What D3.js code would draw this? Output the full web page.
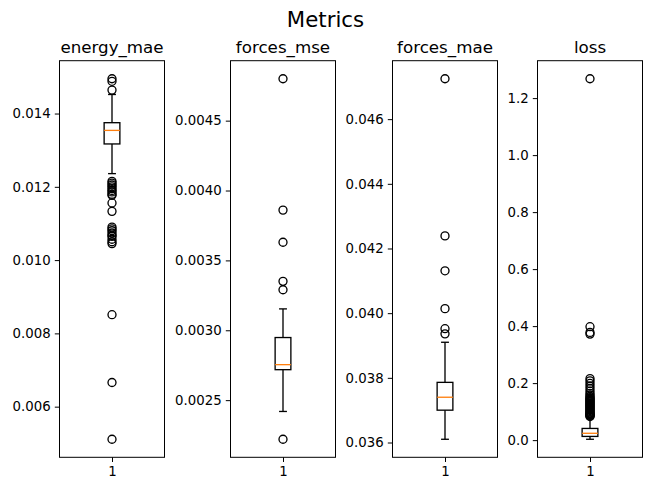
<!DOCTYPE html>
<html><head><meta charset="utf-8">
<script src="https://cdn.jsdelivr.net/npm/d3@7"></script>
<style>body{margin:0;background:#fff} text{font-family:"DejaVu Sans",sans-serif;fill:#000}</style>
</head><body><svg id="c" width="651" height="491"></svg>
<script>
const chartTitle = "Metrics";
const metrics = ["energy_mae", "forces_mse", "forces_mae", "loss"];
const whiskerLow  = [0.01236, 0.002419, 0.0361,  0.003];
const q1          = [0.01317, 0.002718, 0.0370,  0.013];
const medians     = [0.01354, 0.002754, 0.0374,  0.024];
const q3          = [0.01375, 0.002948, 0.03786, 0.041];
const whiskerHigh = [0.01452, 0.003153, 0.0391,  0.080];
const fliersEnergyMae = [0.01495, 0.01488, 0.01464,
  0.01215, 0.01210, 0.01205, 0.01200, 0.01195, 0.01190, 0.01186, 0.01180, 0.01177, 0.01156, 0.01133,
  0.01090, 0.01085, 0.01080, 0.01074, 0.01068, 0.01065, 0.01057, 0.01050, 0.01045,
  0.00851, 0.00666, 0.00511];
const fliersForcesMse = [0.00480, 0.00386, 0.00363, 0.00335, 0.00329, 0.00222];
const fliersForcesMae = [0.04725, 0.04239, 0.04131, 0.04014, 0.03952, 0.03936];
const fliersLoss = [1.268, 0.398, 0.378, 0.372,
  0.216, 0.208, 0.199, 0.190, 0.181, 0.172, 0.164, 0.158, 0.153, 0.149, 0.146, 0.143, 0.140,
  0.137, 0.134, 0.131, 0.128, 0.125, 0.122, 0.119, 0.116, 0.113, 0.110, 0.107, 0.104, 0.101,
  0.098, 0.095, 0.093, 0.091, 0.089, 0.087, 0.085, 0.083];
const fliers = [fliersEnergyMae, fliersForcesMse, fliersForcesMae, fliersLoss];
const yTicks = [
  [0.006, 0.008, 0.010, 0.012, 0.014],
  [0.0025, 0.0030, 0.0035, 0.0040, 0.0045],
  [0.036, 0.038, 0.040, 0.042, 0.044, 0.046],
  [0.0, 0.2, 0.4, 0.6, 0.8, 1.0, 1.2]
];
const yTickFormats = [".3f", ".4f", ".3f", ".1f"];
const xTicks = [1];

// layout
const panelLeft = [59.5, 230.5, 392.5, 537.5];
const panelW = 105, plotTop = 60.7, plotBottom = 457.3;
const svg = d3.select("#c");

svg.append("text").attr("x", 325.5).attr("y", 27).attr("text-anchor", "middle")
  .style("font-size", "21.3px").text(chartTitle);

metrics.forEach((m, i) => {
  const vals = [whiskerLow[i], whiskerHigh[i], ...fliers[i]];
  const lo = d3.min(vals), hi = d3.max(vals), pad = (hi - lo) * 0.05;
  const y = d3.scaleLinear().domain([lo - pad, hi + pad]).range([plotBottom, plotTop]);
  const x = d3.scaleLinear().domain([0.5, 1.5]).range([panelLeft[i], panelLeft[i] + panelW]);
  const g = svg.append("g");

  const ya = g.append("g").attr("transform", `translate(${panelLeft[i]},0)`)
    .call(d3.axisLeft(y).tickValues(yTicks[i]).tickFormat(d3.format(yTickFormats[i]))
      .tickSize(4.7).tickPadding(4.2));
  ya.select(".domain").remove();
  ya.selectAll("text").style("font-size", "13.3px");
  ya.selectAll("line").attr("stroke", "#000").attr("stroke-width", 1);

  const xa = g.append("g").attr("transform", `translate(0,${plotBottom})`)
    .call(d3.axisBottom(x).tickValues(xTicks).tickFormat(d3.format("d")).tickSize(4.7).tickPadding(4.2));
  xa.select(".domain").remove();
  xa.selectAll("text").style("font-size", "13.3px");
  xa.selectAll("line").attr("stroke", "#000").attr("stroke-width", 1);

  const bw = 0.15, cw = 0.075;
  const lw = 1.33;
  g.append("line").attr("x1", x(1)).attr("x2", x(1)).attr("y1", y(whiskerLow[i])).attr("y2", y(q1[i]))
    .attr("stroke", "#000").attr("stroke-width", lw);
  g.append("line").attr("x1", x(1)).attr("x2", x(1)).attr("y1", y(q3[i])).attr("y2", y(whiskerHigh[i]))
    .attr("stroke", "#000").attr("stroke-width", lw);
  [whiskerLow[i], whiskerHigh[i]].forEach(v => {
    g.append("line").attr("x1", x(1 - cw / 2)).attr("x2", x(1 + cw / 2)).attr("y1", y(v)).attr("y2", y(v))
      .attr("stroke", "#000").attr("stroke-width", lw);
  });
  g.append("rect").attr("x", x(1 - bw / 2)).attr("width", x(1 + bw / 2) - x(1 - bw / 2))
    .attr("y", y(q3[i])).attr("height", y(q1[i]) - y(q3[i]))
    .attr("fill", "none").attr("stroke", "#000").attr("stroke-width", lw);
  g.append("line").attr("x1", x(1 - bw / 2)).attr("x2", x(1 + bw / 2)).attr("y1", y(medians[i])).attr("y2", y(medians[i]))
    .attr("stroke", "#ff7f0e").attr("stroke-width", lw);
  g.selectAll("circle.f").data(fliers[i]).join("circle").attr("class", "f")
    .attr("cx", x(1)).attr("cy", d => y(d)).attr("r", 4)
    .attr("fill", "none").attr("stroke", "#000").attr("stroke-width", lw);
  g.append("rect").attr("x", panelLeft[i]).attr("y", plotTop).attr("width", panelW).attr("height", plotBottom - plotTop)
    .attr("fill", "none").attr("stroke", "#000").attr("stroke-width", 1);
  g.append("text").attr("x", panelLeft[i] + panelW / 2).attr("y", 53).attr("text-anchor", "middle")
    .style("font-size", "16.7px").text(m);
});
</script></body></html>
